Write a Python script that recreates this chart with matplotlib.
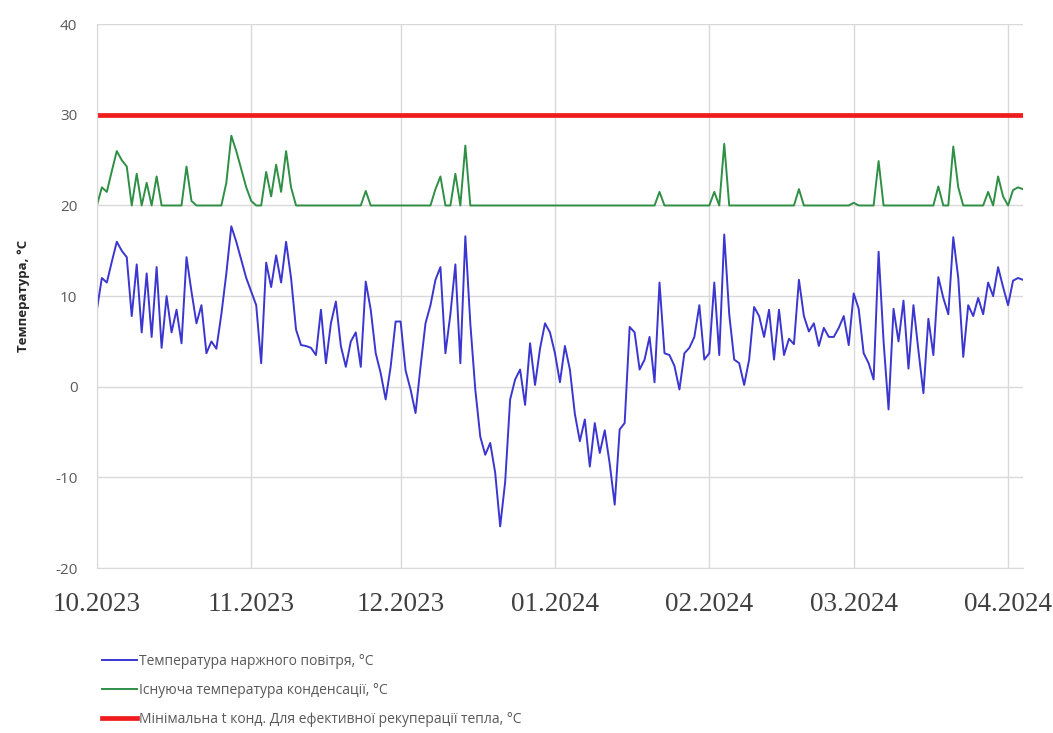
#!/usr/bin/env python3
"""
Outdoor air temperature vs condensing temperature, heating season 2023/24.

Writes out.png.
"""
import matplotlib
matplotlib.use("Agg")

import pandas as pd
import matplotlib.pyplot as plt
import matplotlib.dates as mdates

# daily values, 01.10.2023 .. 04.04.2024
start_date = "2023-10-01"

# outdoor air temperature, degC (one value per day, grouped by month)
t_outdoor = [
    # Oct
    8.5, 12, 11.5, 13.8, 16, 15, 14.3, 7.8, 13.5, 6, 12.5, 5.5, 13.2, 4.3, 10, 6,
    8.5, 4.8, 14.3, 10.5, 7, 9, 3.7, 5, 4.2, 8, 12.5, 17.7, 16, 14, 12,
    # Nov
    10.5, 9, 2.6, 13.7, 11, 14.5, 11.5, 16, 12, 6.3, 4.6, 4.5, 4.3, 3.5, 8.5,
    2.6, 7, 9.4, 4.5, 2.2, 5, 6, 2.2, 11.6, 8.5, 3.7, 1.5, -1.4, 2.2, 7.2,
    # Dec
    7.2, 1.8, -0.3, -2.9, 2.2, 7, 9, 11.8, 13.2, 3.7, 8, 13.5, 2.6, 16.6, 7, -0.3,
    -5.5, -7.5, -6.2, -9.5, -15.4, -10.5, -1.4, 0.8, 1.9, -2, 4.8, 0.2, 4.2, 7, 6,
    # Jan
    3.7, 0.5, 4.5, 1.9, -3, -6, -3.6, -8.8, -4, -7.3, -4.8, -8.5, -13, -4.7, -4,
    6.6, 6, 1.9, 3, 5.5, 0.5, 11.5, 3.7, 3.5, 2.3, -0.3, 3.7, 4.3, 5.5, 9, 3,
    # Feb
    3.7, 11.5, 3.5, 16.8, 8, 3, 2.6, 0.2, 3, 8.8, 7.8, 5.5, 8.5, 3, 8.5, 3.5, 5.3,
    4.7, 11.8, 7.8, 6.1, 7, 4.5, 6.5, 5.5, 5.5, 6.5, 7.8, 4.6,
    # Mar
    10.3, 8.6, 3.7, 2.6, 0.8, 14.9, 5, -2.5, 8.6, 5, 9.5, 2, 9, 4, -0.7, 7.5, 3.5,
    12.1, 9.8, 8, 16.5, 12, 3.3, 9, 7.8, 9.8, 8, 11.5, 10, 13.2, 11,
    # Apr
    9, 11.7, 12, 11.8,
]

# existing condensing temperature, degC
t_cond = [
    # Oct
    20, 22, 21.5, 23.8, 26, 25, 24.3, 20, 23.5, 20, 22.5, 20, 23.2, 20, 20, 20,
    20, 20, 24.3, 20.5, 20, 20, 20, 20, 20, 20, 22.5, 27.7, 26, 24, 22,
    # Nov
    20.5, 20, 20, 23.7, 21, 24.5, 21.5, 26, 22, 20, 20, 20, 20, 20, 20,
    20, 20, 20, 20, 20, 20, 20, 20, 21.6, 20, 20, 20, 20, 20, 20,
    # Dec
    20, 20, 20, 20, 20, 20, 20, 21.8, 23.2, 20, 20, 23.5, 20, 26.6, 20, 20,
    20, 20, 20, 20, 20, 20, 20, 20, 20, 20, 20, 20, 20, 20, 20,
    # Jan
    20, 20, 20, 20, 20, 20, 20, 20, 20, 20, 20, 20, 20, 20, 20,
    20, 20, 20, 20, 20, 20, 21.5, 20, 20, 20, 20, 20, 20, 20, 20, 20,
    # Feb
    20, 21.5, 20, 26.8, 20, 20, 20, 20, 20, 20, 20, 20, 20, 20, 20, 20, 20,
    20, 21.8, 20, 20, 20, 20, 20, 20, 20, 20, 20, 20,
    # Mar
    20.3, 20, 20, 20, 20, 24.9, 20, 20, 20, 20, 20, 20, 20, 20, 20, 20, 20,
    22.1, 20, 20, 26.5, 22, 20, 20, 20, 20, 20, 21.5, 20, 23.2, 21,
    # Apr
    20, 21.7, 22, 21.8,
]

# minimum condensing temperature for efficient heat recovery, degC
t_min_recovery = 30

labels = [
    "Температура наржного повітря, °С",
    "Існуюча температура конденсації, °С",
    "Мінімальна t конд. Для ефективної рекуперації тепла, °С",
]
y_label = "Температура, °С"

dates = pd.date_range(start_date, periods=len(t_outdoor), freq="D")

plt.rcParams["font.family"] = ["Open Sans", "DejaVu Sans"]
plt.rcParams["axes.unicode_minus"] = False

fig = plt.figure(figsize=(10.53, 7.33), dpi=100)
ax = fig.add_axes([0.092, 0.225, 0.8795, 0.742])

ax.plot(dates, t_outdoor, color="#3a36cf", lw=1.4, label=labels[0])
ax.plot(dates, t_cond, color="#2f8f45", lw=1.4, label=labels[1])
ax.plot(dates, [t_min_recovery] * len(dates), color="#ee1c1c", lw=3.4, label=labels[2])

ax.set_xlim(dates[0], dates[-1])
ax.set_ylim(-20, 40)
ax.set_yticks(range(-20, 41, 10))

ax.xaxis.set_major_locator(mdates.MonthLocator())
ax.xaxis.set_major_formatter(mdates.DateFormatter("%m.%Y"))

ax.grid(True, color="#d9d9d9", lw=1)
ax.set_axisbelow(True)
for side in ["top", "right"]:
    ax.spines[side].set_visible(False)
for side in ["left", "bottom"]:
    ax.spines[side].set_color("#d9d9d9")

ax.tick_params(axis="both", length=0)
ax.tick_params(axis="y", labelsize=11, labelcolor="#595959", pad=14)
for lbl in ax.get_xticklabels():
    lbl.set_fontfamily("Liberation Serif")
    lbl.set_fontsize(19.5)
    lbl.set_color("#404040")
ax.tick_params(axis="x", pad=17)

ax.set_ylabel(y_label, fontsize=9.5, fontweight="bold", color="#262626", labelpad=18)

fig.legend(
    loc="upper left",
    bbox_to_anchor=(0.085, 0.125),
    frameon=False,
    fontsize=10,
    handlelength=2.5,
    handletextpad=0.15,
    labelspacing=1.0,
    labelcolor="#595959",
)

fig.savefig("out.png", dpi=100)
plt.close(fig)
